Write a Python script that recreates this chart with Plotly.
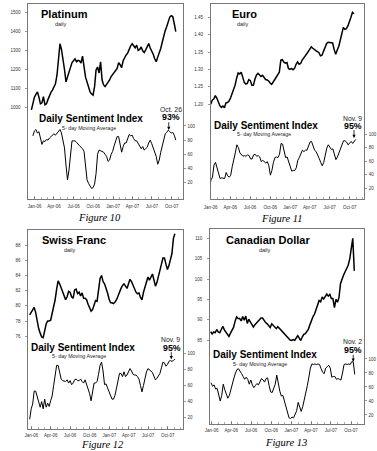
import plotly.graph_objects as go
import pandas as pd

W, H = 377, 451

# ---------------- data ----------------
tick_dates = ["2006-01-01", "2006-04-01", "2006-07-01", "2006-10-01",
              "2007-01-01", "2007-04-01", "2007-07-01", "2007-10-01"]
tick_labels = ["Jan-06", "Apr-06", "Jul-06", "Oct-06",
               "Jan-07", "Apr-07", "Jul-07", "Oct-07"]
dsi_ticks = [20, 40, 60, 80, 100]

titles = ["Platinum", "Euro", "Swiss Franc", "Canadian Dollar"]
callout_dates = ["Oct. 26", "Nov. 9", "Nov. 9", "Nov. 2"]
callout_values = ["93%", "95%", "95%", "95%"]
figure_labels = ["Figure 10", "Figure 11", "Figure 12", "Figure 13"]

# Platinum (weekly readings)
platinum_price_start = "2005-12-17"
platinum_price = [
    988, 1020, 1055, 1070, 1082, 1055, 1020, 1025, 1058, 1015,
    1020, 1042, 1065, 1080, 1092, 1105, 1125, 1170, 1250, 1335,
    1305, 1259, 1200, 1135, 1160, 1190, 1220, 1236, 1246, 1256,
    1241, 1248, 1245, 1234, 1270, 1205, 1160, 1135, 1105, 1082,
    1072, 1066, 1110, 1198, 1213, 1182, 1240, 1145, 1119, 1111,
    1122, 1133, 1145, 1163, 1176, 1186, 1195, 1206, 1236, 1225,
    1210, 1246, 1264, 1276, 1286, 1307, 1324, 1335, 1322, 1314,
    1328, 1300, 1305, 1318, 1298, 1289, 1303, 1318, 1336, 1313,
    1297, 1280, 1256, 1241, 1265, 1286, 1310, 1343, 1378, 1405,
    1426, 1450, 1475, 1482, 1478, 1440, 1399]
platinum_dsi_start = "2005-12-24"
platinum_dsi = [
    86, 93, 95, 90, 92, 84, 74, 79, 78, 81,
    80, 83, 85, 86, 89, 87, 90, 92, 95, 90,
    81, 69, 45, 24, 38, 64, 79, 79, 79, 77,
    74, 72, 70, 68, 64, 43, 24, 19, 15, 12,
    13, 18, 33, 60, 66, 65, 65, 63, 60, 57,
    50, 52, 60, 64, 72, 80, 85, 85, 74, 63,
    71, 76, 76, 82, 88, 86, 87, 82, 79, 79,
    75, 72, 68, 71, 66, 68, 70, 76, 80, 75,
    68, 64, 57, 46, 52, 63, 73, 82, 89, 91,
    94, 92, 90, 91, 87, 80]
platinum_price_ticks = [1000, 1100, 1200, 1300, 1400, 1500]

# Euro
euro_price_start = "2006-01-01"
euro_price = [
    1.200, 1.212, 1.215, 1.225, 1.218, 1.204, 1.196, 1.191, 1.195, 1.190,
    1.204, 1.205, 1.209, 1.218, 1.229, 1.240, 1.255, 1.275, 1.290, 1.287,
    1.292, 1.278, 1.263, 1.258, 1.260, 1.271, 1.268, 1.255, 1.255, 1.272,
    1.284, 1.289, 1.284, 1.280, 1.283, 1.277, 1.271, 1.270, 1.267, 1.261,
    1.257, 1.264, 1.271, 1.276, 1.282, 1.292, 1.327, 1.328, 1.321, 1.318,
    1.320, 1.303, 1.300, 1.303, 1.299, 1.303, 1.315, 1.322, 1.315, 1.317,
    1.327, 1.335, 1.339, 1.345, 1.352, 1.358, 1.365, 1.361, 1.356, 1.354,
    1.351, 1.348, 1.339, 1.341, 1.352, 1.365, 1.374, 1.378, 1.378, 1.376,
    1.376, 1.357, 1.344, 1.356, 1.366, 1.384, 1.407, 1.421, 1.415, 1.417,
    1.425, 1.436, 1.450, 1.464, 1.460]
euro_dsi_start = "2005-12-26"
euro_dsi = [
    18, 32, 36, 54, 58, 50, 41, 34, 35, 35,
    34, 43, 38, 36, 39, 52, 65, 72, 84, 80,
    72, 69, 67, 68, 67, 69, 68, 63, 63, 69,
    70, 67, 68, 66, 59, 61, 59, 57, 59, 53,
    39, 46, 58, 65, 66, 65, 70, 86, 85, 73,
    65, 66, 58, 50, 45, 46, 46, 50, 61, 65,
    72, 76, 74, 76, 76, 82, 88, 89, 82, 76,
    74, 70, 64, 58, 53, 58, 68, 79, 84, 81,
    77, 78, 71, 62, 66, 72, 78, 86, 90, 90,
    88, 84, 87, 89, 86, 90, 92]
euro_price_ticks = [1.20, 1.25, 1.30, 1.35, 1.40, 1.45]

# Swiss Franc
swiss_price_start = "2005-12-24"
swiss_price = [
    78.8, 79.2, 79.4, 79.8, 79.1, 78.0, 77.0, 76.4, 75.9, 75.8,
    77.0, 77.6, 78.0, 78.0, 78.1, 79.0, 79.7, 80.8, 82.2, 83.3,
    82.9, 82.3, 81.7, 81.3, 80.8, 81.2, 81.9, 81.8, 81.2, 81.0,
    82.1, 82.2, 81.6, 81.8, 81.3, 81.7, 81.0, 81.0, 80.8, 80.2,
    79.6, 79.3, 79.5, 80.3, 80.7, 80.6, 82.4, 83.6, 84.0, 83.2,
    82.9, 82.4, 81.7, 80.9, 80.4, 80.4, 80.3, 80.5, 80.8, 81.3,
    81.9, 82.3, 82.7, 82.9, 82.6, 82.3, 82.9, 83.5, 83.2, 82.7,
    82.3, 81.8, 81.6, 81.7, 81.1, 80.8, 81.8, 82.6, 83.2, 83.8,
    83.4, 83.8, 84.2, 83.4, 82.6, 83.1, 83.8, 84.6, 85.5, 86.3,
    86.3, 85.5, 84.8, 85.3, 86.0, 86.9, 88.9, 89.5]
swiss_dsi_start = "2005-12-24"
swiss_dsi = [
    18, 31, 37, 53, 53, 46, 41, 33, 40, 31,
    43, 33, 38, 34, 41, 47, 60, 74, 85, 85,
    75, 68, 66, 65, 65, 67, 63, 66, 61, 63,
    67, 68, 66, 66, 68, 65, 63, 67, 61, 57,
    50, 41, 53, 63, 63, 65, 74, 85, 89, 78,
    61, 62, 57, 53, 48, 43, 43, 48, 57, 69,
    75, 75, 71, 77, 71, 73, 77, 81, 78, 74,
    73, 73, 71, 68, 60, 52, 60, 69, 77, 81,
    80, 78, 76, 72, 67, 69, 73, 75, 82, 89,
    88, 84, 86, 90, 91, 90, 91, 93]
swiss_price_ticks = [76, 78, 80, 82, 84, 86, 88]

# Canadian Dollar
cad_price_start = "2005-12-27"
cad_price = [
    87.1, 86.5, 87.0, 86.8, 87.6, 87.0, 86.8, 87.5, 88.4, 87.5,
    87.0, 86.4, 85.9, 86.7, 87.5, 88.1, 89.6, 90.7, 90.3, 90.3,
    89.7, 90.8, 89.9, 90.9, 89.1, 90.1, 89.5, 88.7, 88.2, 88.8,
    89.2, 89.6, 90.0, 90.4, 90.4, 89.7, 89.3, 89.0, 88.5, 88.1,
    89.0, 88.5, 88.1, 87.8, 88.3, 87.9, 87.4, 87.1, 86.7, 86.3,
    85.8, 85.3, 85.0, 84.9, 85.1, 84.9, 85.7, 86.1, 85.5, 84.9,
    85.8, 86.4, 86.6, 87.1, 87.7, 88.8, 89.9, 90.8, 91.4, 92.6,
    93.7, 94.7, 94.4, 95.6, 95.1, 95.9, 96.3, 95.8, 96.2, 95.2,
    95.2, 93.0, 95.0, 94.3, 95.5, 98.9, 100.3, 101.0, 101.8, 102.6,
    103.4, 104.9, 107.8, 110.0, 102.0]
cad_dsi_start = "2005-12-29"
cad_dsi = [
    66, 61, 63, 57, 58, 48, 40, 48, 64, 56,
    51, 44, 48, 58, 66, 73, 80, 85, 86, 83,
    79, 75, 71, 74, 71, 64, 70, 63, 59, 62,
    65, 63, 67, 72, 70, 67, 72, 73, 62, 53,
    52, 58, 64, 77, 64, 54, 47, 48, 40, 32,
    24, 16, 15, 17, 16, 21, 26, 38, 31, 25,
    32, 41, 50, 62, 74, 87, 93, 92, 93, 92,
    93, 92, 86, 81, 79, 87, 89, 91, 87, 74,
    75, 75, 71, 72, 71, 70, 80, 92, 93, 92,
    93, 92, 96, 96, 78]
cad_price_ticks = [85, 90, 95, 100, 105, 110]

series = [
    (platinum_price_start, platinum_price, platinum_dsi_start, platinum_dsi, platinum_price_ticks, "d"),
    (euro_price_start, euro_price, euro_dsi_start, euro_dsi, euro_price_ticks, ".2f"),
    (swiss_price_start, swiss_price, swiss_dsi_start, swiss_dsi, swiss_price_ticks, "d"),
    (cad_price_start, cad_price, cad_dsi_start, cad_dsi, cad_price_ticks, "d"),
]

# ---------------- geometry / style (pixels) ----------------
geom = [
    dict(box=(21.7, 4, 180, 199), jan=28.3, ppm=6.7, prng=(521, 1543.5), drng=(-3, 272),
         title=(33.3, 14), daily=(55.3, 24), dsi=(31.7, 118), ma=(55, 128),
         cdate=(167.5, 109.5), cval=(168, 117.5), arrow=(165.7, 130, 9.3), fig=(94.5, 217.5),
         pstand=4, tstand=3),
    dict(box=(208.7, 4, 365.7, 199), jan=208.7, ppm=6.79, prng=(0.928, 1.488), drng=(3.7, 292.6),
         title=(229.7, 14), daily=(242, 24), dsi=(210.7, 125.7), ma=(234.7, 134.3),
         cdate=(354, 118), cval=(354, 126.3), arrow=(355.5, 138, 9.5), fig=(282, 218.5),
         pstand=4, tstand=4),
    dict(box=(21.7, 230, 180, 428.7), jan=25, ppm=6.67, prng=(63.8, 90.0), drng=(6.3, 253.2),
         title=(35, 240), daily=(65, 250), dsi=(24, 347.3), ma=(45, 355.7),
         cdate=(168, 339.5), cval=(169, 348.3), arrow=(168.3, 359.3, 8.6), fig=(98, 444.5),
         pstand=4, tstand=2),
    dict(box=(208, 229, 365.5, 424.3), jan=209.7, ppm=6.81, prng=(64.3, 112.3), drng=(6.7, 285.7),
         title=(223, 240), daily=(264, 250), dsi=(210, 354.3), ma=(231, 364),
         cdate=(354, 341), cval=(354.5, 349.5), arrow=(354.7, 361.7, 8.4), fig=(286, 442),
         pstand=4, tstand=1),
]

SANS = "Liberation Sans, Arial, sans-serif"
SERIF = "Liberation Serif, Times New Roman, serif"
AXC = "#555555"
TXC = "#333333"

def fx(x):
    return x / W

def fy(y):
    return 1 - y / H

base = pd.Timestamp("2006-01-01")

fig = go.Figure()
layout = dict(width=W, height=H, margin=dict(l=0, r=0, t=0, b=0),
              paper_bgcolor="white", plot_bgcolor="white", showlegend=False)
annotations = []

for i, ((ps, pv, ds, dv, pticks, pfmt), g) in enumerate(zip(series, geom)):
    xn = "" if i == 0 else str(i + 1)
    xref = "x" + xn
    yl = 2 * i + 1
    yr = 2 * i + 2
    ylref = "y" if yl == 1 else f"y{yl}"
    yrref = f"y{yr}"
    x0, y0, x1, y1 = g["box"]

    pdates = pd.date_range(ps, periods=len(pv), freq="7D")
    ddates = pd.date_range(ds, periods=len(dv), freq="7D")
    fig.add_trace(go.Scatter(x=pdates, y=pv, mode="lines", xaxis=xref, yaxis=ylref,
                             line=dict(color="black", width=1.5), hoverinfo="skip"))
    fig.add_trace(go.Scatter(x=ddates, y=dv, mode="lines", xaxis=xref, yaxis=yrref,
                             line=dict(color="black", width=1.0), hoverinfo="skip"))

    left = base + pd.Timedelta(days=(x0 - g["jan"]) / g["ppm"] * 30.44)
    right = base + pd.Timedelta(days=(x1 - g["jan"]) / g["ppm"] * 30.44)

    layout["xaxis" + xn] = dict(
        domain=[fx(x0), fx(x1)], anchor=ylref, type="date", range=[left, right],
        showline=True, linecolor=AXC, linewidth=0.8, mirror=True,
        ticks="inside", ticklen=3, tickwidth=0.6, tickcolor=AXC,
        tickmode="array", tickvals=tick_dates, ticktext=tick_labels,
        tickfont=dict(family=SANS, size=4.5, color=TXC), ticklabelstandoff=g["tstand"],
        minor=dict(tickmode="linear", tick0="2006-01-01", dtick="M1", ticks="inside",
                   ticklen=2, tickwidth=0.5, tickcolor=AXC),
        showgrid=False, zeroline=False, fixedrange=True)
    layout["yaxis" + ("" if yl == 1 else str(yl))] = dict(
        domain=[fy(y1), fy(y0)], anchor=xref, range=list(g["prng"]),
        tickmode="array", tickvals=pticks, tickformat=pfmt,
        ticks="outside", ticklen=2, tickwidth=0.6, tickcolor=AXC,
        showline=True, linecolor=AXC, linewidth=0.8,
        tickfont=dict(family=SANS, size=4.5, color=TXC), ticklabelstandoff=g["pstand"],
        showgrid=False, zeroline=False, fixedrange=True)
    layout["yaxis" + str(yr)] = dict(
        overlaying=ylref, side="right", anchor=xref, range=list(g["drng"]),
        tickmode="array", tickvals=dsi_ticks,
        ticks="outside", ticklen=2, tickwidth=0.6, tickcolor=AXC,
        showline=True, linecolor=AXC, linewidth=0.8,
        tickfont=dict(family=SANS, size=4.5, color=TXC), ticklabelstandoff=1,
        showgrid=False, zeroline=False, fixedrange=True)

    def ann(text, pos, size, xanchor="left", family=SANS, color="black"):
        annotations.append(dict(text=text, x=fx(pos[0]), y=fy(pos[1]), xref="paper", yref="paper",
                                xanchor=xanchor, yanchor="middle", showarrow=False,
                                borderpad=0, font=dict(family=family, size=size, color=color)))

    ann("<b>" + titles[i] + "</b>", g["title"], 11)
    ann("daily", g["daily"], 5.5, xanchor="center", color="#222")
    ann("<b>Daily Sentiment Index</b>", g["dsi"], 10)
    ann("5- day Moving Average", g["ma"], 5.3, color="#222")
    ann(callout_dates[i], g["cdate"], 6.8, xanchor="center", color="#222")
    ann("<b>" + callout_values[i] + "</b>", g["cval"], 8.8, xanchor="center")
    ann("<i>" + figure_labels[i] + "</i>", g["fig"], 10.5, xanchor="center", family=SERIF)
    ax_, ay_, alen = g["arrow"]
    annotations.append(dict(text="", x=fx(ax_), y=fy(ay_), xref="paper", yref="paper",
                            showarrow=True, ax=0, ay=-alen, arrowhead=2, arrowsize=0.8,
                            arrowwidth=0.8, arrowcolor="black", standoff=0))

layout["annotations"] = annotations
fig.update_layout(**layout)
fig.write_html("out.html", config={"staticPlot": True},
               post_script="document.body.style.margin='0';")
